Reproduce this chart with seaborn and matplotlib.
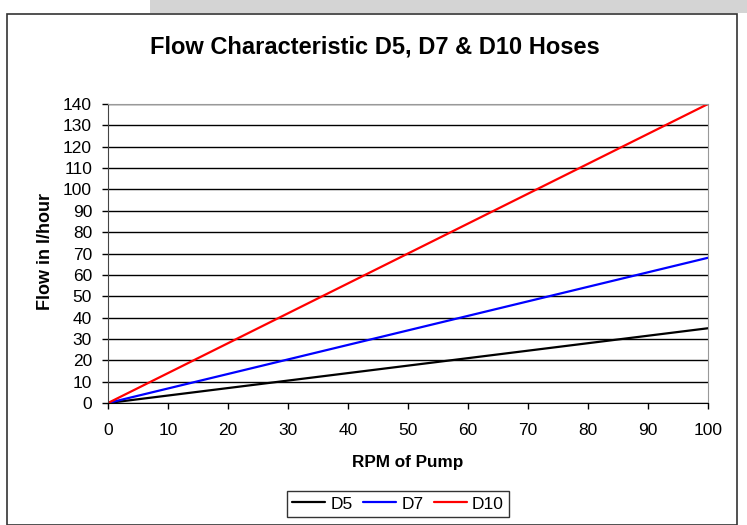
import pandas as pd
import matplotlib.pyplot as plt
import seaborn as sns
from matplotlib.patches import Rectangle

# Datos
rpm = [0, 10, 20, 30, 40, 50, 60, 70, 80, 90, 100]
d5 = [0, 3.5, 7, 10.5, 14, 17.5, 21, 24.5, 28, 31.5, 35]
d7 = [0, 6.8, 13.6, 20.4, 27.2, 34, 40.8, 47.6, 54.4, 61.2, 68]
d10 = [0, 14, 28, 42, 56, 70, 84, 98, 112, 126, 140]
series = ["D5", "D7", "D10"]
colores = ["black", "blue", "red"]

df = pd.DataFrame({"rpm": rpm * 3,
                   "flow": d5 + d7 + d10,
                   "hose": [s for s in series for _ in rpm]})

sns.set_style("white")
plt.rcParams['font.family'] = ['Liberation Sans', 'DejaVu Sans']
plt.rcParams['text.color'] = 'black'
plt.rcParams['axes.labelcolor'] = 'black'

fig = plt.figure(figsize=(7.47, 5.25), dpi=100)
ax = fig.add_axes([108 / 747, 1 - 403 / 525, 600 / 747, 299 / 525])

# marco exterior y franja gris de la captura
fig.patches.append(Rectangle((150 / 747, 1 - 13 / 525), 597 / 747, 13 / 525,
                             transform=fig.transFigure, facecolor="#d4d4d4",
                             edgecolor="none", zorder=-2))
fig.patches.append(Rectangle((7 / 747, 0), 730 / 747, 1 - 14 / 525,
                             transform=fig.transFigure, facecolor="white",
                             edgecolor="#333333", linewidth=1.2, zorder=-1))

sns.lineplot(data=df, x="rpm", y="flow", hue="hose", palette=colores,
             linewidth=1.6, ax=ax, legend=False)

ax.set_xlim(0, 100)
ax.set_ylim(0, 140)
ax.set_xticks(range(0, 101, 10))
ax.set_yticks(range(0, 141, 10))
ax.yaxis.grid(True, color="black", linewidth=1)
ax.set_axisbelow(True)
for lado in ["top", "right"]:
    ax.spines[lado].set_color("#999999")
ax.spines["left"].set_color("#444444")
ax.spines["bottom"].set_color("black")
ax.tick_params(axis="both", direction="out", length=4.5, width=1,
               labelsize=12.5, colors="black", bottom=True, left=True)
ax.tick_params(axis="x", pad=10)
ax.tick_params(axis="y", pad=7)

ax.set_xlabel("RPM of Pump", fontsize=12.3, fontweight="bold")
ax.set_ylabel("Flow in l/hour", fontsize=13, fontweight="bold")
ax.xaxis.label.set_va("center")
ax.yaxis.label.set_va("center")
ax.xaxis.set_label_coords(0.5, (403 - 462) / 299)
ax.yaxis.set_label_coords((45 - 108) / 600, (403 - 252) / 299)
fig.text(375 / 747, 1 - 47 / 525, "Flow Characteristic D5, D7 & D10 Hoses",
         ha="center", va="center", fontsize=17, fontweight="bold")

handles = [plt.Line2D([], [], color=c, linewidth=1.6) for c in colores]
leg = fig.legend(handles, series, loc="center", bbox_to_anchor=(398 / 747, 1 - 504 / 525),
                 ncol=3, frameon=True, fontsize=12.5, handlelength=1.9,
                 handletextpad=0.3, columnspacing=0.6, borderpad=0.3,
                 fancybox=False, edgecolor="black")
leg.get_frame().set_linewidth(1)

fig.savefig("out.png", dpi=100)
